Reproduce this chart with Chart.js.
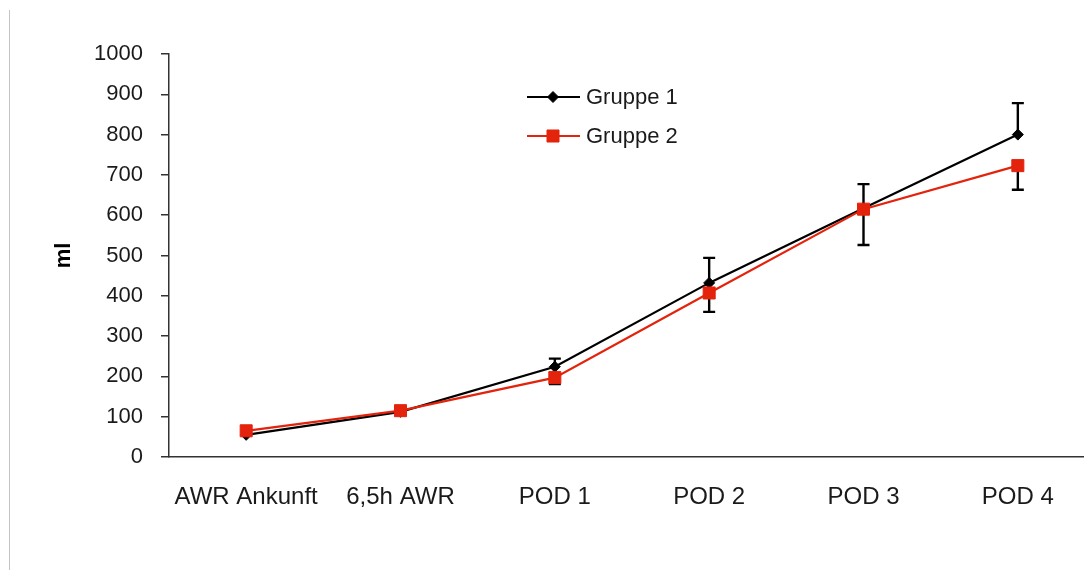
<!DOCTYPE html>
<html>
<head>
<meta charset="utf-8">
<script src="https://cdn.jsdelivr.net/npm/chart.js@4/dist/chart.umd.min.js"></script>
<style>
  html, body { margin: 0; padding: 0; background: #fff; overflow: hidden; }
  #wrap { position: relative; width: 1110px; height: 570px; }
</style>
</head>
<body>
<div id="wrap"><canvas id="c" width="1110" height="570"></canvas></div>
<script>
// Time points
const categories = ['AWR Ankunft', '6,5h AWR', 'POD 1', 'POD 2', 'POD 3', 'POD 4'];

// Mean volumes (ml)
const gruppe1 = [55, 112, 224, 432, 617, 800];
const gruppe2 = [65, 115, 197, 407, 615, 723];

// Standard deviations: upward bars for Gruppe 1, downward bars for Gruppe 2
const gruppe1Err = [null, null, 20, 62, 60, 78];
const gruppe2Err = [null, null, 16, 47, 89, 60];

// Value axis ticks
const yTicks = [0, 100, 200, 300, 400, 500, 600, 700, 800, 900, 1000];

const FONT = '"Liberation Sans", Arial, Helvetica, sans-serif';
const RED = '#E4230C';

const errorBars = {
  id: 'errorBars',
  beforeDatasetsDraw(chart) {
    const ctx = chart.ctx;
    const y = chart.scales.y;
    const sets = [
      { idx: 0, means: gruppe1, errs: gruppe1Err, dir: 1 },
      { idx: 1, means: gruppe2, errs: gruppe2Err, dir: -1 }
    ];
    ctx.save();
    ctx.strokeStyle = '#000';
    ctx.lineWidth = 2.4;
    sets.forEach(s => {
      const meta = chart.getDatasetMeta(s.idx);
      meta.data.forEach((pt, i) => {
        const e = s.errs[i];
        if (e == null) return;
        const px = pt.x;
        const y0 = y.getPixelForValue(s.means[i]);
        const y1 = y.getPixelForValue(s.means[i] + s.dir * e);
        ctx.beginPath();
        ctx.moveTo(px, y0);
        ctx.lineTo(px, y1);
        ctx.moveTo(px - 6, y1);
        ctx.lineTo(px + 6, y1);
        ctx.stroke();
      });
    });
    ctx.restore();
  }
};

const lineLegend = {
  id: 'lineLegend',
  afterDraw(chart) {
    const ctx = chart.ctx;
    const rows = [97, 136];
    ctx.save();
    chart.data.datasets.forEach((ds, i) => {
      const yy = rows[i];
      ctx.strokeStyle = ds.borderColor;
      ctx.lineWidth = ds.borderWidth;
      ctx.beginPath();
      ctx.moveTo(527, yy);
      ctx.lineTo(580, yy);
      ctx.stroke();
      ctx.fillStyle = ds.pointBackgroundColor;
      ctx.strokeStyle = ds.pointBorderColor;
      ctx.lineWidth = 1;
      Chart.helpers.drawPoint(ctx, { pointStyle: ds.pointStyle, radius: ds.pointRadius, borderWidth: 1 }, 553, yy);
      ctx.fillStyle = '#1a1a1a';
      ctx.font = '22px ' + FONT;
      ctx.textAlign = 'left';
      ctx.textBaseline = 'middle';
      ctx.fillText(ds.label, 586, yy + 1);
    });
    ctx.restore();
  }
};

const frameLine = {
  id: 'frameLine',
  beforeDraw(chart) {
    const ctx = chart.ctx;
    ctx.save();
    ctx.strokeStyle = '#c4c4c4';
    ctx.lineWidth = 1;
    ctx.beginPath();
    ctx.moveTo(9.5, 10);
    ctx.lineTo(9.5, 570);
    ctx.stroke();
    ctx.restore();
  }
};

new Chart(document.getElementById('c'), {
  type: 'line',
  data: {
    labels: categories,
    datasets: [
      {
        label: 'Gruppe 1',
        data: gruppe1,
        borderColor: '#000',
        borderWidth: 2.2,
        pointStyle: 'rectRot',
        pointRadius: 5.5,
        pointBackgroundColor: '#000',
        pointBorderColor: '#000',
        pointBorderWidth: 1,
        tension: 0,
        order: 1
      },
      {
        label: 'Gruppe 2',
        data: gruppe2,
        borderColor: RED,
        borderWidth: 2.2,
        pointStyle: 'rect',
        pointRadius: 8.5,
        pointBackgroundColor: RED,
        pointBorderColor: RED,
        pointBorderWidth: 1,
        tension: 0,
        order: 0
      }
    ]
  },
  options: {
    responsive: false,
    animation: false,
    devicePixelRatio: 1,
    layout: { padding: { top: 54, right: 15, left: 0, bottom: 0 } },
    plugins: { legend: { display: false }, tooltip: { enabled: false } },
    scales: {
      x: {
        offset: true,
        grid: { display: false, drawTicks: false },
        border: { display: true, color: '#333', width: 1.5 },
        ticks: { color: '#1a1a1a', font: { family: FONT, size: 24 }, padding: 26, maxRotation: 0 },
        afterFit(scale) { scale.height = 113; }
      },
      y: {
        min: 0,
        max: 1000,
        afterBuildTicks(scale) { scale.ticks = yTicks.map(v => ({ value: v })); },
        grid: { display: true, drawOnChartArea: false, tickLength: 8, color: '#333', lineWidth: 1.5 },
        border: { display: true, color: '#333', width: 1.5 },
        ticks: {
          color: '#1a1a1a',
          font: { family: FONT, size: 22 },
          padding: 18,
          callback: (v) => String(v)
        },
        title: {
          display: true,
          text: 'ml',
          color: '#000',
          font: { family: FONT, size: 22, weight: 'bold' },
          padding: { top: 51, bottom: 0 }
        },
        afterFit(scale) { scale.width = 169; }
      }
    }
  },
  plugins: [frameLine, errorBars, lineLegend]
});
</script>
</body>
</html>
